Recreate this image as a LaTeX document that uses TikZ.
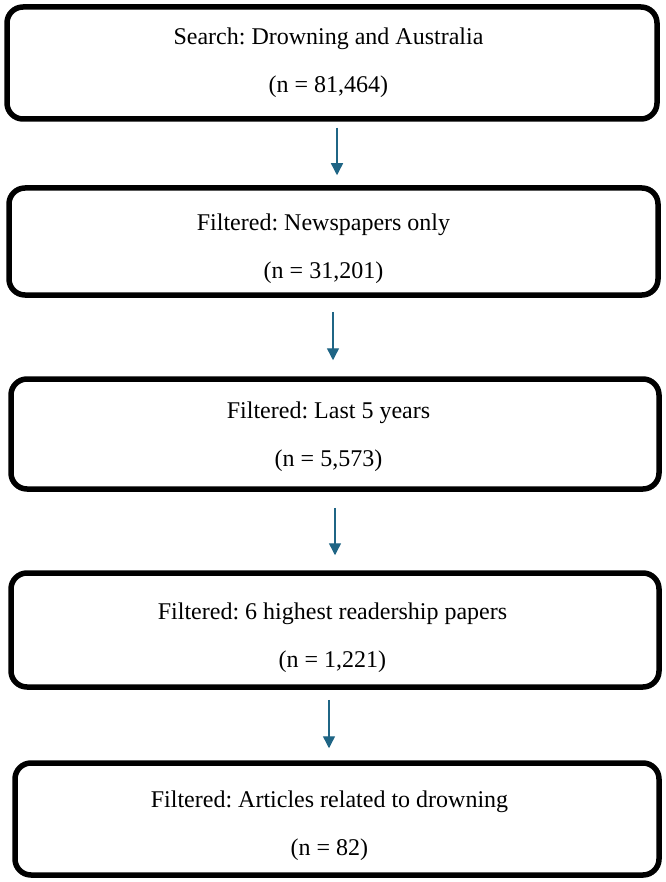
\documentclass[tikz,border=0pt]{standalone}
\usepackage{fontspec}
\setmainfont{Liberation Serif}
\usetikzlibrary{arrows.meta}
\definecolor{arrcol}{HTML}{1F6585}
\frenchspacing
\begin{document}
\begin{tikzpicture}[x=1pt,y=-1pt,
  box/.style={draw=black,line width=5.5pt,rounded corners=16pt,inner sep=0pt},
  txt/.style={align=center,font=\fontsize{24}{48}\selectfont,inner sep=0pt},
  arr/.style={draw=arrcol,line width=1.4pt,-{Triangle[width=12pt,length=12pt]}}]
\useasboundingbox (0,0) rectangle (665,882);
\node[box,minimum width=650pt,minimum height=112pt] (b1) at (332,63) {};
\node[box,minimum width=649pt,minimum height=107pt] (b2) at (333.5,241.5) {};
\node[box,minimum width=648pt,minimum height=110pt] (b3) at (335,434) {};
\node[box,minimum width=648pt,minimum height=114pt] (b4) at (335,630) {};
\node[box,minimum width=644pt,minimum height=112pt] (b5) at (337,819) {};
\node[txt] (t1) at (328.5,63) {Search: Drowning and Australia\\(n = 81,464)};
\node[txt] (t2) at (323.5,248.25) {Filtered: Newspapers only\\(n = 31,201)};
\node[txt] (t3) at (328.5,437) {Filtered: Last 5 years\\(n = 5,573)};
\node[txt] (t4) at (332.5,637.5) {Filtered: 6 highest readership papers\\(n = 1,221)};
\node[txt] (t5) at (329.5,826) {Filtered: Articles related to drowning\\(n = 82)};
\draw[arr,shorten <=6pt,shorten >=10pt] ([xshift=5pt]b1.south) -- ([xshift=3.5pt]b2.north);
\draw[arr,shorten <=14pt,shorten >=16pt] ([xshift=-0.5pt]b2.south) -- ([xshift=-2pt]b3.north);
\draw[arr,shorten <=16pt,shorten >=15pt] (b3.south) -- (b4.north);
\draw[arr,shorten <=10pt,shorten >=12pt] ([xshift=-6pt]b4.south) -- ([xshift=-8pt]b5.north);
\end{tikzpicture}
\end{document}
